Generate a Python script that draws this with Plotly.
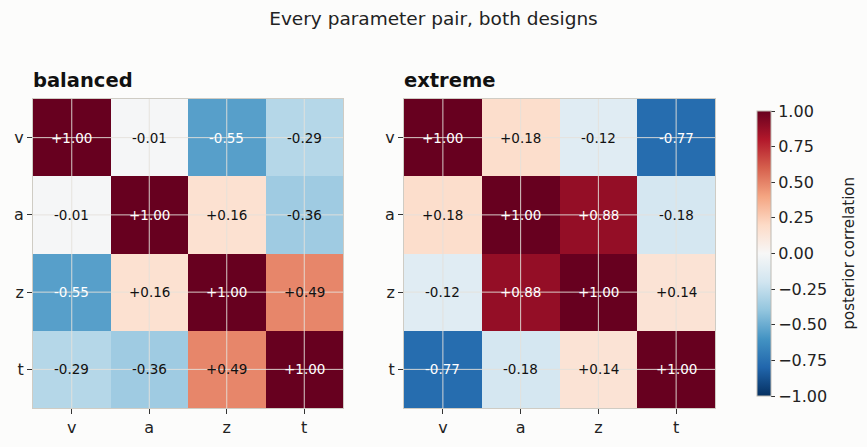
import plotly.graph_objects as go
from plotly.colors import diverging

params = ["v", "a", "z", "t"]
designs = ["balanced", "extreme"]

corr_balanced = [
    [1.00, -0.01, -0.55, -0.29],
    [-0.01, 1.00, 0.16, -0.36],
    [-0.55, 0.16, 1.00, 0.49],
    [-0.29, -0.36, 0.49, 1.00],
]
corr_extreme = [
    [1.00, 0.18, -0.12, -0.77],
    [0.18, 1.00, 0.88, -0.18],
    [-0.12, 0.88, 1.00, 0.14],
    [-0.77, -0.18, 0.14, 1.00],
]
matrices = [corr_balanced, corr_extreme]

cbar_ticks = [-1.0, -0.75, -0.5, -0.25, 0.0, 0.25, 0.5, 0.75, 1.0]

W, H = 867, 447
BG = "#fcfcfb"
FONT = "DejaVu Sans"

# matplotlib RdBu_r
rdbu_r = list(reversed(diverging.RdBu))
n = len(rdbu_r)
cscale = [[i / (n - 1), c] for i, c in enumerate(rdbu_r)]

# pixel boxes of the two panels
x_dom = [(33 / W, 343 / W), (404 / W, 715 / W)]
y_dom = ((H - 408) / H, (H - 99) / H)

fig = go.Figure()
annotations = []
shapes = []

for k, (name, mat) in enumerate(zip(designs, matrices)):
    sfx = "" if k == 0 else str(k + 1)
    fig.add_trace(go.Heatmap(
        z=mat, x=params, y=params,
        xaxis="x" + sfx, yaxis="y" + sfx,
        colorscale=cscale, zmin=-1, zmax=1,
        showscale=(k == 1),
        colorbar=dict(
            x=757 / W, xanchor="left", xpad=0,
            y=1 - 253.5 / H, yanchor="middle", ypad=0,
            len=(396 - 111) / H, lenmode="fraction",
            thickness=14, outlinecolor="#bdbab3", outlinewidth=1,
            tickvals=cbar_ticks, tickformat=".2f",
            ticks="outside", ticklen=4, tickcolor="#333",
            tickfont=dict(size=16, color="#222", family=FONT),
        ),
        hoverinfo="skip",
    ))
    ax = dict(
        domain=list(x_dom[k]), anchor="y" + sfx,
        showgrid=False, zeroline=False,
        showline=True, mirror=True, linecolor="#cfccc4", linewidth=1,
        ticks="outside", ticklen=5, tickcolor="#333",
        tickfont=dict(size=16, color="#222", family=FONT),
        automargin=False,
    )
    ay = dict(
        domain=list(y_dom), anchor="x" + sfx,
        autorange="reversed",
        showgrid=False, zeroline=False,
        showline=True, mirror=True, linecolor="#cfccc4", linewidth=1,
        ticks="outside", ticklen=5, tickcolor="#333",
        tickfont=dict(size=16, color="#222", family=FONT),
        automargin=False,
    )
    fig.update_layout(**{"xaxis" + sfx: ax, "yaxis" + sfx: ay})

    # cell labels
    for i, row_name in enumerate(params):
        for j, col_name in enumerate(params):
            v = mat[i][j]
            annotations.append(dict(
                x=col_name, y=row_name,
                xref="x" + sfx, yref="y" + sfx,
                text=f"{v:+.2f}", showarrow=False,
                font=dict(size=13.5, family=FONT,
                          color="white" if abs(v) > 0.5 else "#111"),
            ))

    # grid lines drawn over the cells, at tick positions
    for idx in range(len(params)):
        shapes.append(dict(type="line", layer="above",
                           xref="x" + sfx, yref="y" + sfx + " domain",
                           x0=idx, x1=idx, y0=0, y1=1,
                           line=dict(color="rgba(228,225,218,0.9)", width=1)))
        shapes.append(dict(type="line", layer="above",
                           xref="x" + sfx + " domain", yref="y" + sfx,
                           x0=0, x1=1, y0=idx, y1=idx,
                           line=dict(color="rgba(228,225,218,0.9)", width=1)))

    # panel title
    annotations.append(dict(
        x=x_dom[k][0] - 2 / W, y=(H - 94) / H, xref="paper", yref="paper",
        xanchor="left", yanchor="bottom", showarrow=False,
        text=f"<b>{name}</b>",
        font=dict(size=19.5, color="#111", family=FONT),
    ))

# colorbar label
annotations.append(dict(
    x=848 / W, y=1 - 253.5 / H, xref="paper", yref="paper",
    xanchor="center", yanchor="middle", showarrow=False, textangle=-90,
    text="posterior correlation",
    font=dict(size=15, color="#222", family=FONT),
))

fig.update_layout(
    width=W, height=H,
    margin=dict(l=0, r=0, t=0, b=0),
    paper_bgcolor=BG, plot_bgcolor=BG,
    title=dict(text="Every parameter pair, both designs",
               x=0.5, xanchor="center", y=1 - 19 / H, yanchor="middle",
               font=dict(size=18.5, color="#222", family=FONT)),
    annotations=annotations,
    shapes=shapes,
    font=dict(family=FONT),
)

fig.write_html(
    "out.html",
    config={"displayModeBar": False},
    post_script="document.body.style.margin='0';"
                "document.body.style.background='" + BG + "';",
)
